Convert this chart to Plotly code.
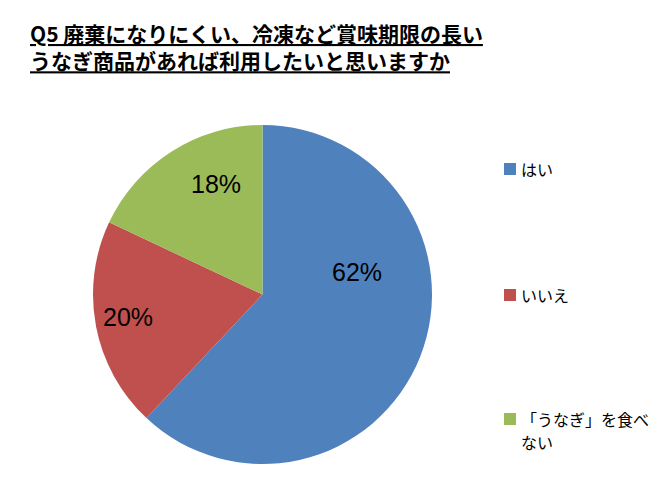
import plotly.graph_objects as go

categories = ["はい", "いいえ", "「うなぎ」を食べない"]
legend_lines = [["はい"], ["いいえ"], ["「うなぎ」を食べ", "ない"]]
values = [62, 20, 18]
colors = ["#4F81BD", "#C0504D", "#9BBB59"]
title_lines = ["Q5 廃棄になりにくい、冷凍など賞味期限の長い", "うなぎ商品があれば利用したいと思いますか"]

W, H = 669, 494
OFF = 8  # page body margin
cx, cy, r = 262.5 - OFF, 294.5 - OFF, 169.5

# label anchor positions (page pixels), Excel "best fit" placement
label_pos = [(357, 272), (127.5, 316.5), (216, 184)]

fig = go.Figure(go.Pie(
    labels=categories,
    values=values,
    marker=dict(colors=colors, line=dict(width=0)),
    sort=False,
    direction="clockwise",
    rotation=0,
    textinfo="none",
    showlegend=False,
    hoverinfo="label+percent",
    domain=dict(x=[(cx - r) / W, (cx + r) / W], y=[(H - cy - r) / H, (H - cy + r) / H]),
))

def px(x):
    return (x - OFF) / W

def py(y):
    return 1 - (y - OFF) / H

annotations = [dict(
    x=px(28), y=py(16), xref="paper", yref="paper", xanchor="left", yanchor="top",
    align="left", showarrow=False,
    text="<b><u>" + "<br>".join(title_lines) + "</u></b>",
    font=dict(family="Noto Sans CJK JP", size=21, color="black"),
)]
total = sum(values)
for v, (lx, ly) in zip(values, label_pos):
    annotations.append(dict(
        x=px(lx), y=py(ly), xref="paper", yref="paper", xanchor="center", yanchor="middle",
        showarrow=False, text=f"{round(100 * v / total)}%",
        font=dict(family="Liberation Sans", size=25, color="black"),
    ))

shapes = []
leg_y = [169, 295, 419]
for lines, col, yy in zip(legend_lines, colors, leg_y):
    shapes.append(dict(type="rect", xref="paper", yref="paper",
                       x0=px(504), x1=px(516), y0=py(yy + 6), y1=py(yy - 6),
                       fillcolor=col, line=dict(width=0)))
    for i, ln in enumerate(lines):
        annotations.append(dict(
            x=px(519), y=py(yy + 23 * i), xref="paper", yref="paper",
            xanchor="left", yanchor="middle", align="left", showarrow=False,
            text=ln, font=dict(family="Noto Sans CJK JP", size=16, color="black"),
        ))

fig.update_layout(
    width=W, height=H,
    margin=dict(l=0, r=0, t=0, b=0),
    paper_bgcolor="white", plot_bgcolor="white",
    annotations=annotations, shapes=shapes,
)
fig.write_html("out.html")
